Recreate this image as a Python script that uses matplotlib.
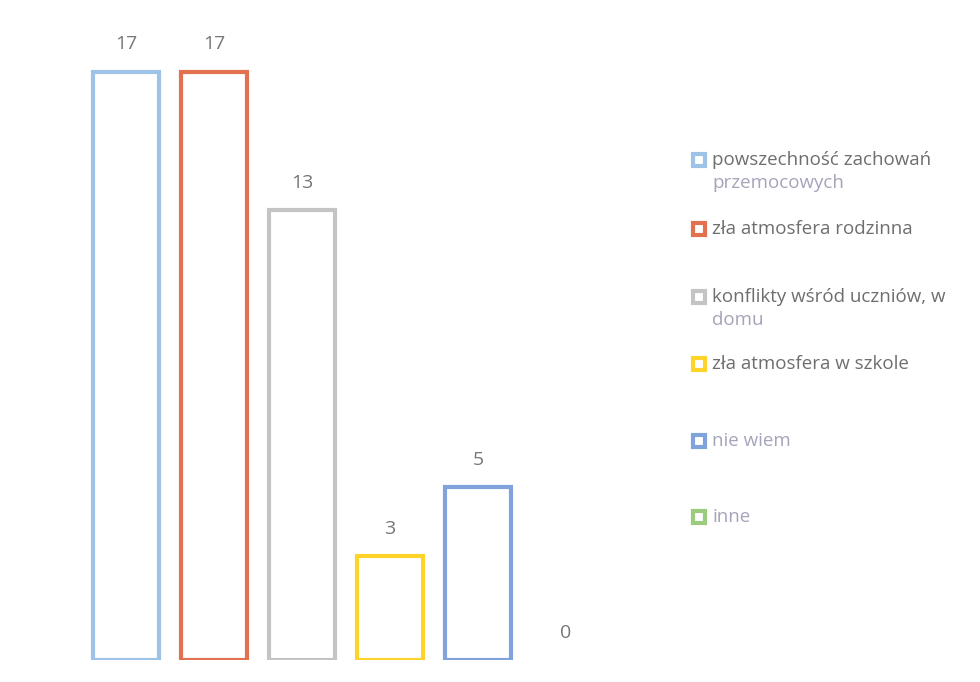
import matplotlib.pyplot as plt
from matplotlib.patches import Rectangle

# data
categories = ["powszechność zachowań przemocowych", "zła atmosfera rodzinna",
              "konflikty wśród uczniów, w domu", "zła atmosfera w szkole",
              "nie wiem", "inne"]
values = [17, 17, 13, 3, 5, 0]
legend_lines = [["powszechność zachowań", "przemocowych"],
                ["zła atmosfera rodzinna"],
                ["konflikty wśród uczniów, w", "domu"],
                ["zła atmosfera w szkole"],
                ["nie wiem"],
                ["inne"]]
colors = ["#9DC3E6", "#E2714F", "#C4C4C4", "#FFD42A", "#7FA3DA", "#9CCB7E"]

plt.rcParams['font.family'] = ['Open Sans', 'DejaVu Sans']

fig = plt.figure(figsize=(9.8, 6.82), dpi=100)
ax = fig.add_axes([82 / 980, 22 / 682, 528 / 980, 630 / 682])

x = list(range(len(values)))
lw = [3 if v > 0 else 0 for v in values]
ax.bar(x, values, width=0.75, facecolor="white", edgecolor=colors, linewidth=lw)
for xi, v in zip(x, values):
    ax.annotate(str(v), (xi, v), xytext=(0, 13), textcoords="offset points",
                ha="center", va="bottom", fontsize=14, color="#767676")

ax.set_xlim(-0.5, 5.5)
ax.set_ylim(0, 18.2)
ax.axis("off")

# legend drawn by hand (entries spaced unevenly)
ys = [160, 229, 297, 364, 441, 517]
for lines, col, yp in zip(legend_lines, colors, ys):
    fig.add_artist(Rectangle((693 / 980, 1 - (yp + 6) / 682), 12 / 980, 12 / 682,
                             transform=fig.transFigure, facecolor="white",
                             edgecolor=col, linewidth=3))
    for i, line in enumerate(lines):
        c = "#6e6e6e" if i == 0 and yp < 400 else "#a4a4ba"
        fig.text(712 / 980, 1 - (yp + i * 23) / 682, line, fontsize=13.5,
                 color=c, va="center", ha="left")

fig.savefig("out.png", dpi=100)
